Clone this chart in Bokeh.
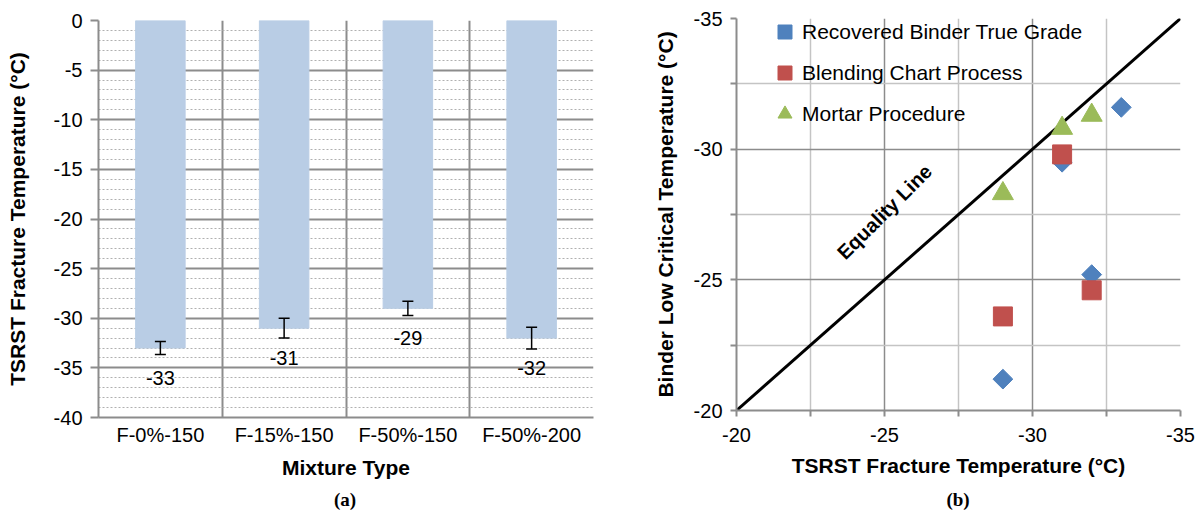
import numpy as np
from bokeh.plotting import figure
from bokeh.models import (Range1d, FixedTicker, Whisker, ColumnDataSource, Legend,
                          LegendItem, TeeHead, Div)
from bokeh.layouts import row, column
from bokeh.embed import file_html
from bokeh.resources import INLINE
from bokeh.core.properties import value

# ---------------- data: panel (a) ----------------
mixtures = ["F-0%-150", "F-15%-150", "F-50%-150", "F-50%-200"]
tsrst = [-33, -31, -29, -32]
tsrst_err = [0.65, 1.0, 0.72, 1.1]
y_ticks_a = [-40, -35, -30, -25, -20, -15, -10, -5, 0]
y_minor_a = list(range(-40, 1))

# ---------------- data: panel (b) ----------------
rec_x = [-29, -31, -32, -33]
rec_y = [-21.2, -29.5, -25.2, -31.6]
blend_x = [-29, -31, -32]
blend_y = [-23.6, -29.8, -24.6]
mortar_x = [-29, -31, -32]
mortar_y = [-28.3, -30.8, -31.3]
eq_x = [-20, -35]
eq_y = [-20, -35]
ticks_b = [-20, -25, -30, -35]
minor_b = [-22.5, -27.5, -32.5]
eq_label_x = [-25.0]
eq_label_y = [-27.6]

FONT = "Liberation Sans"
GRID = "#8c8c8c"
TXT = "20px"
TITLE_TXT = "21px"


def style_axis(ax):
    ax.axis_line_color = GRID
    ax.axis_line_width = 2
    ax.major_tick_line_color = GRID
    ax.major_tick_line_width = 2
    ax.major_tick_in = 0
    ax.major_label_text_font = FONT
    ax.major_label_text_font_size = TXT
    ax.major_label_text_color = "black"
    ax.axis_label_text_font = FONT
    ax.axis_label_text_font_style = "bold"
    ax.axis_label_text_font_size = TITLE_TXT
    ax.axis_label_text_color = "black"


def hyphen_labels(ticks):
    return {t: f"{t:g}" for t in ticks}


def panel_tag(text, width, left):
    return Div(text=text, width=width, height=24, margin=(0, 0, 0, left),
               styles={"text-align": "center", "font-family": "Liberation Serif",
                       "font-size": "19px", "font-weight": "bold",
                       "line-height": "24px", "color": "black"})


# ================= panel (a) =================
xc = np.arange(len(mixtures)) + 0.5
p1 = figure(width=640, height=488, x_range=Range1d(0, len(mixtures)),
            y_range=Range1d(-40, 0), output_backend="svg", toolbar_location=None,
            min_border_left=98, min_border_right=47, min_border_top=20,
            min_border_bottom=71)
p1.outline_line_color = None

p1.vbar(x=xc, top=tsrst, bottom=0, width=0.4, color="#B9CDE5")

err_src = ColumnDataSource(dict(x=xc,
                                upper=[v + e for v, e in zip(tsrst, tsrst_err)],
                                lower=[v - e for v, e in zip(tsrst, tsrst_err)]))
wh = Whisker(base="x", upper="upper", lower="lower", source=err_src,
             line_color="black", line_width=1.5, level="overlay",
             upper_head=TeeHead(size=11, line_color="black", line_width=1.5),
             lower_head=TeeHead(size=11, line_color="black", line_width=1.5))
p1.add_layout(wh)

p1.text(x=xc, y=tsrst, text=[str(v) for v in tsrst], text_align="center",
        text_baseline="middle", y_offset=30, text_font=value(FONT),
        text_font_size=TXT, text_color="black")

p1.xaxis.ticker = FixedTicker(ticks=list(xc))
p1.xaxis.major_label_overrides = {float(x): m for x, m in zip(xc, mixtures)}
p1.yaxis.ticker = FixedTicker(ticks=y_ticks_a, minor_ticks=y_minor_a)
p1.yaxis.major_label_overrides = hyphen_labels(y_ticks_a)
for ax in (p1.xaxis[0], p1.yaxis[0]):
    style_axis(ax)
p1.xaxis.major_tick_line_color = None
p1.xaxis.major_tick_out = 0
p1.xaxis.major_label_standoff = 6
p1.xaxis.axis_label = "Mixture Type"
p1.xaxis.axis_label_standoff = 7
p1.yaxis.major_tick_out = 8
p1.yaxis.minor_tick_line_color = None
p1.yaxis.major_label_standoff = 8
p1.yaxis.axis_label = "TSRST Fracture Temperature (°C)"
p1.yaxis.axis_label_standoff = 22

p1.xgrid.ticker = FixedTicker(ticks=list(range(len(mixtures) + 1)))
p1.xgrid.grid_line_color = GRID
p1.xgrid.grid_line_width = 2
p1.ygrid.grid_line_color = GRID
p1.ygrid.grid_line_width = 2
p1.ygrid.minor_grid_line_color = "#b0b0b0"
p1.ygrid.minor_grid_line_dash = "2 2"
p1.ygrid.minor_grid_line_width = 1

# ================= panel (b) =================
p2 = figure(width=560, height=488, x_range=Range1d(-20, -35),
            y_range=Range1d(-20, -35), output_backend="svg", toolbar_location=None,
            min_border_left=96, min_border_right=20, min_border_top=18,
            min_border_bottom=78)
p2.outline_line_color = None

for ax in (p2.xaxis[0], p2.yaxis[0]):
    style_axis(ax)
    ax.ticker = FixedTicker(ticks=ticks_b, minor_ticks=minor_b)
    ax.major_label_overrides = hyphen_labels(ticks_b)
    ax.major_tick_out = 6
    ax.minor_tick_out = 6
    ax.minor_tick_in = 0
    ax.minor_tick_line_color = GRID
    ax.minor_tick_line_width = 2
    ax.major_label_standoff = 8
p2.xaxis.major_label_standoff = 11
p2.xaxis.axis_label = "TSRST Fracture Temperature (°C)"
p2.xaxis.axis_label_standoff = 9
p2.yaxis.axis_label = "Binder Low Critical Temperature (°C)"
p2.yaxis.axis_label_standoff = 14

for g in (p2.xgrid[0], p2.ygrid[0]):
    g.grid_line_color = GRID
    g.grid_line_width = 1.5
    g.minor_grid_line_color = "#c4c4c4"
    g.minor_grid_line_width = 1.5

p2.line(eq_x, eq_y, line_color="black", line_width=3)
p2.text(x=eq_label_x, y=eq_label_y, text=["Equality Line"], angle=0.785,
        text_align="center", text_baseline="middle", text_font=value(FONT),
        text_font_style="bold", text_font_size=TXT, text_color="black")

r_rec = p2.scatter(rec_x, rec_y, marker="square", angle=np.pi / 4, size=14,
                   color="#4F81BD")
r_blend = p2.scatter(blend_x, blend_y, marker="square", size=19, color="#C0504D")
r_mortar = p2.scatter(mortar_x, mortar_y, marker="triangle", size=21,
                      color="#9BBB59")

legend = Legend(items=[LegendItem(label="Recovered Binder True Grade", renderers=[r_rec]),
                       LegendItem(label="Blending Chart Process", renderers=[r_blend]),
                       LegendItem(label="Mortar Procedure", renderers=[r_mortar])],
                location=(31, 279), border_line_color=None,
                background_fill_alpha=0, padding=0, margin=0, spacing=6,
                glyph_width=35, glyph_height=35, label_height=35,
                label_standoff=0, label_text_font=FONT,
                label_text_font_size="21px", label_text_color="black")
p2.add_layout(legend)

tag_a = panel_tag("(a)", 496, 97)
tag_b = panel_tag("(b)", 444, 76 + 640 - 640 - 0 + 20)

layout = row(column(p1, tag_a), column(p2, tag_b))
open("out.html", "w").write(file_html(layout, INLINE))
